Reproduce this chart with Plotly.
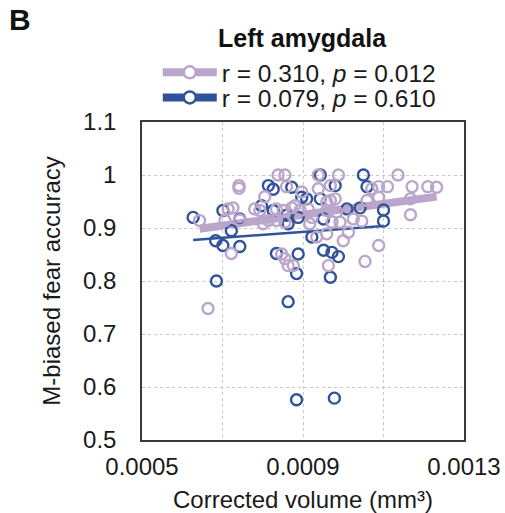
import numpy as np
import plotly.graph_objects as go

# ---- data ----
purple_x = [0.000643, 0.000664, 0.000741, 0.000741, 0.000714, 0.000726, 0.000706, 0.000743, 0.000722,
            0.000780, 0.000793, 0.000805, 0.000838, 0.000855, 0.000859, 0.000834, 0.000801, 0.000814,
            0.000834, 0.000851, 0.000872, 0.000847, 0.000855, 0.000863, 0.000876, 0.000897, 0.000880,
            0.000893, 0.000913, 0.000922, 0.000917, 0.000934, 0.000963, 0.000938, 0.000988, 0.000968,
            0.000938, 0.000968, 0.000980, 0.000959, 0.000984, 0.000972, 0.001025, 0.001013, 0.001000,
            0.001054, 0.001088, 0.001071, 0.001088, 0.001110, 0.001136, 0.001171, 0.001210, 0.001232,
            0.001059, 0.001088, 0.001167, 0.001167, 0.001046, 0.000959, 0.000959, 0.000992, 0.000855]
purple_y = [0.914, 0.748, 0.980, 0.975, 0.936, 0.938, 0.914, 0.915, 0.852,
            0.936, 0.933, 0.959, 1.000, 1.000, 0.978, 0.936, 0.908, 0.914,
            0.914, 0.933, 0.938, 0.851, 0.842, 0.829, 0.829, 0.968, 0.942,
            0.933, 0.936, 0.920, 0.908, 0.883, 0.829, 1.000, 1.000, 0.980,
            0.974, 0.952, 0.955, 0.933, 0.930, 0.911, 0.917, 0.892, 0.876,
            0.837, 0.867, 0.974, 0.978, 0.978, 1.000, 0.978, 0.978, 0.977,
            0.952, 0.958, 0.955, 0.925, 0.913, 0.889, 0.949, 0.911, 0.911]

blue_x = [0.000627, 0.000701, 0.000722, 0.000683, 0.000701, 0.000743, 0.000685, 0.000743, 0.000814,
          0.000826, 0.000872, 0.000797, 0.000826, 0.000859, 0.000863, 0.000834, 0.000888, 0.000884,
          0.000863, 0.000884, 0.000897, 0.000909, 0.000888, 0.000922, 0.000943, 0.000980, 0.000943,
          0.000951, 0.000951, 0.000972, 0.000988, 0.000968, 0.000978, 0.001009, 0.001042, 0.001050,
          0.001059, 0.001100, 0.001100]
blue_y = [0.920, 0.933, 0.895, 0.876, 0.867, 0.865, 0.800, 0.917, 0.980,
          0.973, 0.977, 0.942, 0.933, 0.924, 0.908, 0.852, 0.851, 0.814,
          0.761, 0.576, 0.958, 0.955, 0.920, 0.883, 1.000, 0.980, 0.955,
          0.917, 0.858, 0.854, 0.846, 0.807, 0.579, 0.936, 0.938, 1.000,
          0.978, 0.934, 0.913]

purple_label = "r = 0.310, <i>p</i> = 0.012"
blue_label = "r = 0.079, <i>p</i> = 0.610"
title_text = "<b>Left amygdala</b>"
x_ticks = [0.0005, 0.0007, 0.0009, 0.0011, 0.0013]
x_ticktext = ["0.0005", "", "0.0009", "", "0.0013"]
y_ticks = [0.5, 0.6, 0.7, 0.8, 0.9, 1.0, 1.1]
y_ticktext = ["0.5", "0.6", "0.7", "0.8", "0.9", "1", "1.1"]

PURPLE = "#bba6cb"
BLUE = "#30539a"
FONT = "Liberation Sans, Arial, sans-serif"
TXT = "#1a1a1a"

def fit_line(xs, ys):
    xs = np.asarray(xs); ys = np.asarray(ys)
    k, b = np.polyfit(xs, ys, 1)
    xl = np.array([xs.min(), xs.max()])
    return xl, k * xl + b

fig = go.Figure()

pxl, pyl = fit_line(purple_x, purple_y)
bxl, byl = fit_line(blue_x, blue_y)

fig.add_trace(go.Scatter(x=pxl, y=pyl, mode="lines", line=dict(color=PURPLE, width=8),
                         showlegend=False, hoverinfo="skip"))
fig.add_trace(go.Scatter(x=bxl, y=byl, mode="lines", line=dict(color=BLUE, width=2.5),
                         showlegend=False, hoverinfo="skip"))
fig.add_trace(go.Scatter(x=blue_x, y=blue_y, mode="markers", showlegend=False,
                         marker=dict(symbol="circle-open", size=11, color=BLUE, line=dict(width=2.4))))
fig.add_trace(go.Scatter(x=purple_x, y=purple_y, mode="markers", showlegend=False,
                         marker=dict(symbol="circle-open", size=11, color=PURPLE, line=dict(width=2.4))))

# legend entries (one legend box per row for exact spacing)
fig.add_trace(go.Scatter(x=[None], y=[None], mode="lines+markers", name=purple_label, legend="legend",
                         line=dict(color=PURPLE, width=8),
                         marker=dict(symbol="circle", size=12, color="white", line=dict(color=PURPLE, width=2.5))))
fig.add_trace(go.Scatter(x=[None], y=[None], mode="lines+markers", name=blue_label, legend="legend2",
                         line=dict(color=BLUE, width=8),
                         marker=dict(symbol="circle", size=12, color="white", line=dict(color=BLUE, width=2.5))))

grid = dict(showgrid=True, gridcolor="#c8c8c8", griddash="3px,3px", gridwidth=1,
            showline=True, linecolor="#3a3a3a", linewidth=1.5, mirror=True, zeroline=False,
            ticks="", tickfont=dict(size=24, color=TXT))

fig.update_xaxes(range=[0.0005, 0.0013], tickvals=x_ticks, ticktext=x_ticktext,
                 title=dict(text="Corrected volume (mm³)", font=dict(size=24, color=TXT), standoff=13),
                 ticklabelstandoff=4, **grid)
fig.update_yaxes(range=[0.5, 1.1], tickvals=y_ticks, ticktext=y_ticktext,
                 title=dict(text="M-biased fear accuracy", font=dict(size=24, color=TXT), standoff=16),
                 ticklabelstandoff=19, **grid)

leg_common = dict(xanchor="left", yanchor="middle", font=dict(size=24.5, color=TXT),
                  bgcolor="rgba(0,0,0,0)", itemwidth=54, borderwidth=0)

fig.update_layout(
    width=505, height=513,
    margin=dict(l=142, r=41, t=122, b=73, autoexpand=False),
    paper_bgcolor="white", plot_bgcolor="white",
    font=dict(family=FONT, color=TXT),
    legend=dict(x=0.049, y=1.156, **leg_common),
    legend2=dict(x=0.049, y=1.077, **leg_common),
    annotations=[
        dict(text=title_text, x=0.497, y=1.263, xref="paper", yref="paper", showarrow=False,
             xanchor="center", yanchor="middle", font=dict(size=25, color="#111111")),
        dict(text="<b>B</b>", x=-0.42, y=1.38, xref="paper", yref="paper", showarrow=False,
             xanchor="left", yanchor="top", font=dict(size=30, color="#111111")),
    ],
)

fig.write_html("out.html", config={"displayModeBar": False},
               post_script="document.body.style.margin='0';")
